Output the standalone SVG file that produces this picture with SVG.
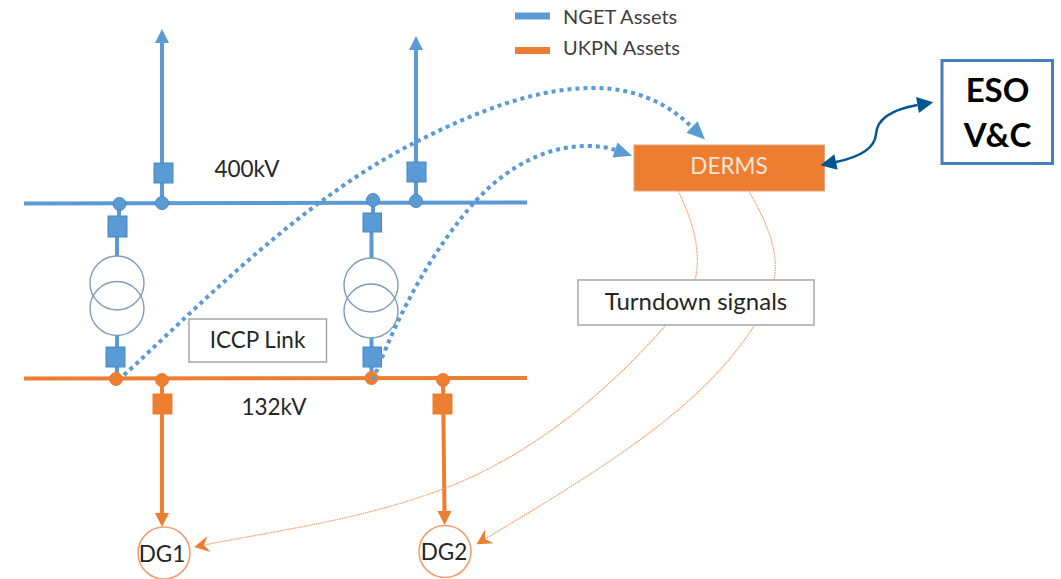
<svg xmlns="http://www.w3.org/2000/svg" width="1061" height="579" viewBox="0 0 1061 579">
<style>
text{font-family:"Lato","Liberation Sans",sans-serif;fill:#262626;text-anchor:middle}
.lbl{font-size:22.5px}
.leg{font-size:20px;text-anchor:start;fill:#404040}
.eso{font-family:"Lato","Liberation Sans",sans-serif;font-size:33px;font-weight:700;fill:#000}
.b{fill:none;stroke:#5b9bd5;stroke-width:4}
.o{fill:none;stroke:#ed7d31;stroke-width:4}
.bf{fill:#5b9bd5;stroke:#4a86bd;stroke-width:1}
.of{fill:#ed7d31;stroke:#ed7d31;stroke-width:1}
.tx{fill:none;stroke:#7f9db9;stroke-width:1.4}
.dot{fill:none;stroke:#5b9bd5;stroke-width:4;stroke-dasharray:4 4}
.thin{fill:none;stroke:#f4a06a;stroke-width:1.2;stroke-dasharray:1.6 .8}
.box{fill:#fff;stroke:#a6a6a6;stroke-width:1.5}
.dg{fill:#fff;stroke:#f0a070;stroke-width:1.6}
</style>
<defs>
<marker id="hb" markerUnits="userSpaceOnUse" markerWidth="16" markerHeight="16" refX="2" refY="8" orient="auto" overflow="visible"><path d="M0 1L14 8L0 15Z" fill="#5b9bd5"/></marker>
<marker id="ho" markerUnits="userSpaceOnUse" markerWidth="16" markerHeight="16" refX="2" refY="8" orient="auto" overflow="visible"><path d="M0 1L14 8L0 15Z" fill="#ed7d31"/></marker>
<marker id="hd" markerUnits="userSpaceOnUse" markerWidth="18" markerHeight="18" refX="0" refY="9" orient="auto" overflow="visible"><path d="M0 1L18 9L0 17Z" fill="#5b9bd5"/></marker>
<marker id="hn" markerUnits="userSpaceOnUse" markerWidth="16" markerHeight="16" refX="0" refY="8" orient="auto" overflow="visible"><path d="M0 0L16 8L0 16Z" fill="#00578f"/></marker>
<marker id="hs" markerUnits="userSpaceOnUse" markerWidth="16" markerHeight="16" refX="16" refY="8" orient="auto" overflow="visible"><path d="M16 0L0 8L16 16Z" fill="#00578f"/></marker>
<marker id="ht" markerUnits="userSpaceOnUse" markerWidth="16" markerHeight="18" refX="3" refY="9" orient="auto" overflow="visible"><path d="M-2 1L13 9L-2 17L3 9Z" fill="#ed7d31"/></marker>
</defs>
<g id="legend">
<path d="M515 16H550" stroke="#5b9bd5" stroke-width="7"/>
<path d="M515 50.5H550" stroke="#ed7d31" stroke-width="7"/>
<text class="leg" x="563" y="24">NGET Assets</text>
<text class="leg" x="563" y="55">UKPN Assets</text>
</g>
<g id="connectors">
<path class="b" d="M162 203V41" marker-end="url(#hb)"/>
<path class="b" d="M416 201V48" marker-end="url(#hb)"/>
<path class="b" d="M119 204V216M117 237V256"/>
<path class="b" d="M117 335V379"/>
<path class="b" d="M373 200V213M371.500 232V258"/>
<path class="b" d="M371.500 338V378"/>
<path class="o" d="M162 380V515" marker-end="url(#ho)"/>
<path class="o" d="M443 380L444.500 513" marker-end="url(#ho)"/>
</g>
<g id="bus-400kv"><path class="b" d="M24 203.500L527 202.500"/></g>
<g id="bus-132kv"><path class="o" d="M24 378.500L527 378"/></g>
<g id="junctions">
<circle class="bf" cx="119.500" cy="204" r="6.500"/><circle class="bf" cx="162" cy="203" r="6.500"/>
<circle class="bf" cx="373" cy="200" r="6.500"/><circle class="bf" cx="416" cy="201" r="6.500"/>
<circle class="of" cx="116" cy="379" r="6.500"/><circle class="of" cx="162" cy="380" r="6.500"/>
<circle class="of" cx="371.500" cy="378" r="6.500"/><circle class="of" cx="443" cy="380" r="6.500"/>
</g>
<g id="breakers">
<rect class="bf" x="154" y="163" width="19" height="20"/><rect class="bf" x="407" y="162" width="19" height="20"/>
<rect class="bf" x="108" y="216" width="19" height="21"/><rect class="bf" x="363" y="213" width="18.500" height="19"/>
<rect class="bf" x="106" y="347" width="19" height="20"/><rect class="bf" x="363" y="347" width="18.500" height="20"/>
<rect class="of" x="153" y="394" width="19" height="20"/><rect class="of" x="433" y="394" width="19" height="20"/>
</g>
<g id="transformer-1"><circle class="tx" cx="117" cy="283" r="27"/><circle class="tx" cx="117" cy="308.500" r="27"/></g>
<g id="transformer-2"><circle class="tx" cx="371" cy="285" r="27"/><circle class="tx" cx="371" cy="311" r="27"/></g>
<g id="signal-lines">
<path class="dot" d="M124 375C190 315 300 200 416 142C475 112 535 88 593 88C637 88 668 104 692 127" marker-end="url(#hd)"/>
<path class="dot" d="M373 380C387 345 415 272 472 205C500 173 540 146 587 146C597 146 606 147 615 150" marker-end="url(#hd)"/>
<path class="thin" d="M678 191C695 225 705 262 690 295C684 307 675 315 665 326C600 400 525 458 443 489C360 520 280 530 204 545" marker-end="url(#ht)"/>
<path class="thin" d="M749 191C765 220 780 250 774 280C770 300 760 315 754 326C700 410 600 470 485 539" marker-end="url(#ht)"/>
</g>
<g id="label-400kv"><text class="lbl" x="247" y="177">400kV</text></g>
<g id="label-132kv"><text class="lbl" x="274" y="415">132kV</text></g>
<g id="iccp"><rect class="box" x="189" y="319" width="137.500" height="43"/><text class="lbl" x="257.500" y="348">ICCP Link</text></g>
<g id="turndown"><rect class="box" x="578" y="280" width="236" height="45"/><text class="lbl" x="696" y="310" style="font-size:24px">Turndown signals</text></g>
<g id="derms"><rect x="634" y="145" width="190.500" height="46" fill="#ed7d31" stroke="#e8a77a" stroke-width="1"/><text class="lbl" x="729" y="174" style="fill:#fbe5d6">DERMS</text></g>
<g id="eso"><rect x="942" y="60.500" width="110.500" height="103" fill="#fff" stroke="#4a7ebb" stroke-width="3"/><text class="eso" x="997.500" y="102">ESO</text><text class="eso" x="997.500" y="147">V&amp;C</text></g>
<g id="dg1"><circle class="dg" cx="164" cy="553" r="26"/><text class="lbl" x="162" y="562">DG1</text></g>
<g id="dg2"><circle class="dg" cx="445" cy="551.500" r="26"/><text class="lbl" x="444" y="560">DG2</text></g>
<g id="eso-link">
<path d="M836 162C860 157 875 148 876 134C877 118 895 109 917.500 105" fill="none" stroke="#00578f" stroke-width="2.500" marker-start="url(#hs)" marker-end="url(#hn)"/>
</g>
</svg>
